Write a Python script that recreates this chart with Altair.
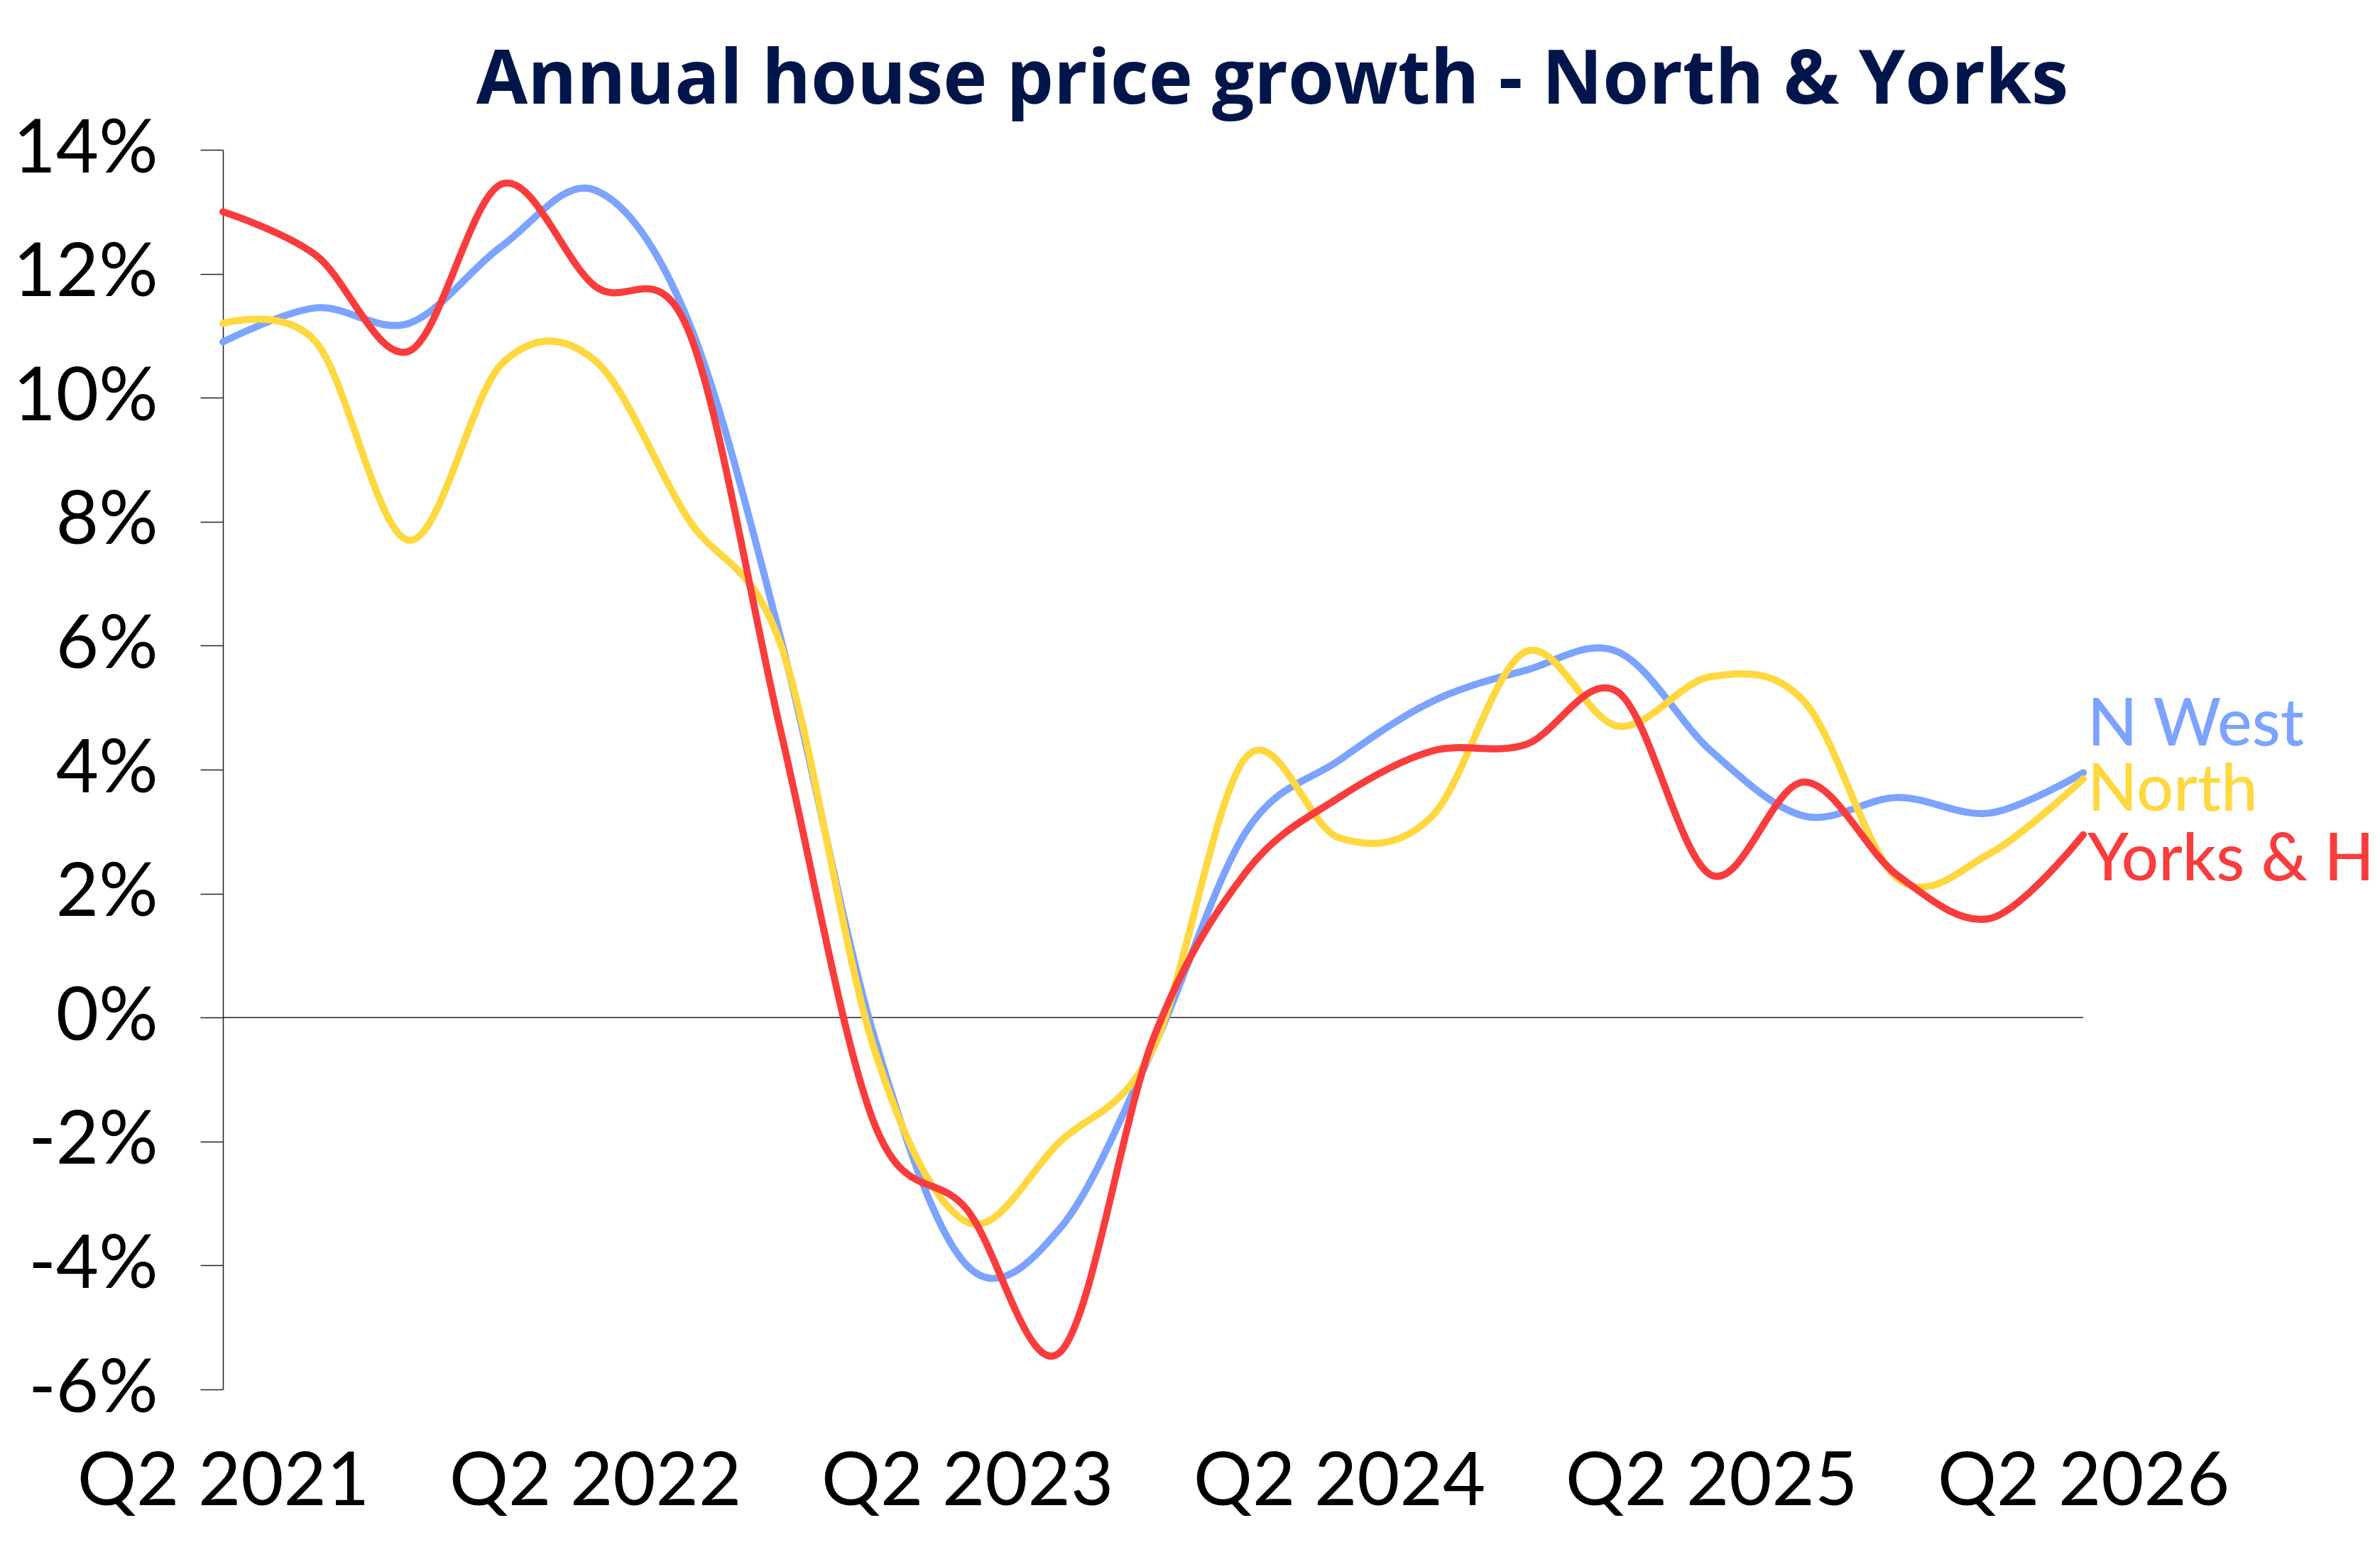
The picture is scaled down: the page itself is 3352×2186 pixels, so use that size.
import altair as alt
import pandas as pd

quarters = [
    "Q2 2021", "Q3 2021", "Q4 2021", "Q1 2022", "Q2 2022", "Q3 2022", "Q4 2022",
    "Q1 2023", "Q2 2023", "Q3 2023", "Q4 2023", "Q1 2024", "Q2 2024", "Q3 2024",
    "Q4 2024", "Q1 2025", "Q2 2025", "Q3 2025", "Q4 2025", "Q1 2026", "Q2 2026",
]
n_west = [10.9, 11.45, 11.2, 12.45, 13.35, 11.25, 6.1, -0.3, -4.0, -3.4, -0.5,
          3.0, 4.15, 5.1, 5.6, 5.9, 4.3, 3.25, 3.55, 3.3, 3.95]
north = [11.2, 10.9, 7.7, 10.55, 10.6, 8.05, 6.0, -0.5, -3.3, -2.0, -0.5,
         4.2, 2.9, 3.25, 5.9, 4.7, 5.5, 5.1, 2.25, 2.65, 3.85]
yorks = [13.0, 12.3, 10.75, 13.45, 11.8, 11.1, 4.6, -1.7, -3.1, -5.4, -0.35,
         2.35, 3.55, 4.3, 4.4, 5.25, 2.3, 3.8, 2.3, 1.6, 2.95]

series_names = ["N West", "North", "Yorks & H"]
series_colors = ["#7BA3FF", "#FFD840", "#FA3C3C"]
label_dy = [-38, 45, 64]
y_ticks = [-6, -4, -2, 0, 2, 4, 6, 8, 10, 12, 14]
x_label_quarters = [q for q in quarters if q.startswith("Q2")]

rows = []
for name, vals in zip(series_names, [n_west, north, yorks]):
    for q, v in zip(quarters, vals):
        rows.append({"quarter": q, "series": name, "value": v})
df = pd.DataFrame(rows)

FONT = "Lato"
TITLE_FONT = "Open Sans"

x_enc = alt.X(
    "quarter:O",
    sort=quarters,
    scale=alt.Scale(type="point", padding=0),
    axis=alt.Axis(
        values=x_label_quarters,
        title=None,
        domain=False,
        ticks=False,
        tickSize=0,
        grid=False,
        labelAngle=0,
        labelFontSize=104,
        labelFont=FONT,
        labelColor="#000000",
        labelPadding=80,
        labelBaseline="top",
        labelAlign="center",
        labelLimit=0,
        labelOverlap=False,
    ),
)
y_enc = alt.Y(
    "value:Q",
    scale=alt.Scale(domain=[-6, 14], nice=False, zero=False),
    axis=alt.Axis(
        values=y_ticks,
        labelExpr="datum.value + '%'",
        title=None,
        grid=False,
        domain=True,
        domainColor="#222222",
        domainWidth=1.5,
        ticks=True,
        tickColor="#222222",
        tickWidth=1.5,
        tickSize=32,
        labelFontSize=104,
        labelFont=FONT,
        labelColor="#000000",
        labelPadding=60,
        labelLimit=0,
        labelOverlap=False,
    ),
)
color_enc = alt.Color(
    "series:N",
    scale=alt.Scale(domain=series_names, range=series_colors),
    legend=None,
)

zero_df = pd.DataFrame({"value": [0]})
zero_rule = alt.Chart(zero_df).mark_rule(
    color="#222222", strokeWidth=1.5
).encode(y=y_enc)

lines = alt.Chart(df).mark_line(
    interpolate="cardinal", strokeCap="round", strokeJoin="round"
).encode(
    x=x_enc, y=y_enc, color=color_enc, order=alt.Order("series:N"),
    strokeWidth=alt.value(10),
)

label_layers = []
for name, col, dy in zip(series_names, series_colors, label_dy):
    label_layers.append(
        alt.Chart(df[(df["series"] == name) & (df["quarter"] == quarters[-1])])
        .mark_text(
            align="left", baseline="alphabetic", dx=6, dy=dy,
            fontSize=92, font=FONT, fontWeight=500, color=col,
        )
        .encode(x=x_enc, y=y_enc, text="series:N")
    )

chart = alt.layer(zero_rule, lines, *label_layers).properties(
    width=2620,
    height=1746,
    padding={"left": 306, "top": 203, "right": 410, "bottom": 200},
    autosize=alt.AutoSizeParams(type="none"),
    view=alt.ViewBackground(stroke="transparent", strokeWidth=0),
    title=alt.TitleParams(
        "Annual house price growth - North & Yorks",
        font=TITLE_FONT,
        fontSize=105,
        fontWeight="bold",
        color="#00154A",
        anchor="middle",
        frame="group",
        dx=168,
        baseline="alphabetic",
        offset=-92,
    ),
).configure_view(strokeWidth=0, stroke="transparent").configure(background="white")

chart.save("out.html", embed_options={"renderer": "svg", "actions": False})
